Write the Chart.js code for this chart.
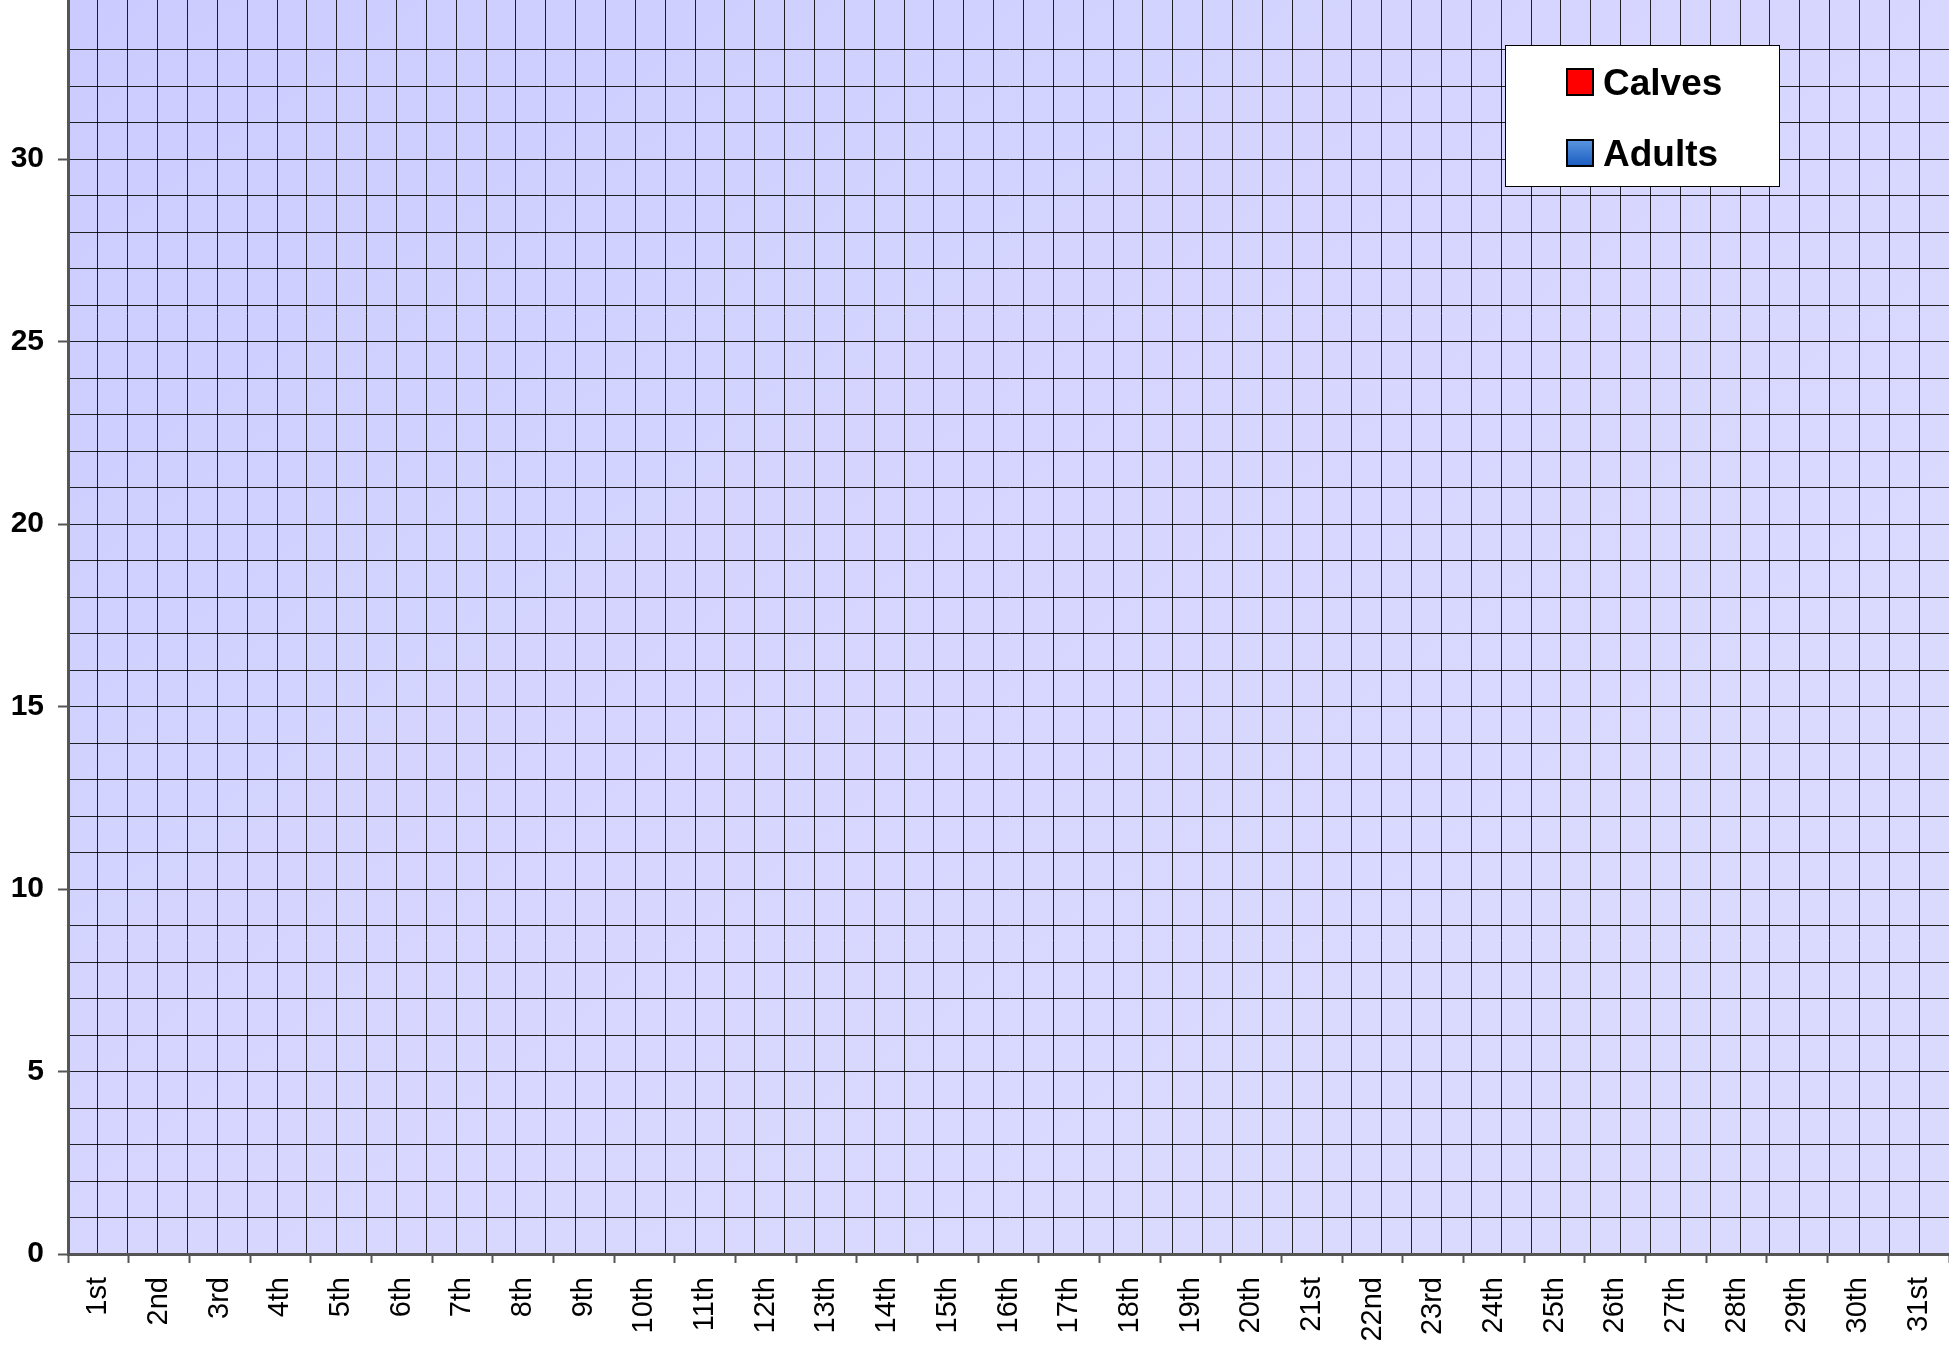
<!DOCTYPE html>
<html>
<head>
<meta charset="utf-8">
<script src="https://cdn.jsdelivr.net/npm/chart.js@4"></script>
<style>
  body { margin: 0; background: #fff; }
  canvas { display: block; }
</style>
</head>
<body>
<canvas id="myCanvas" width="1949" height="1346"></canvas>
<script>
'use strict';

// days of the month
const days = ['1st', '2nd', '3rd', '4th', '5th', '6th', '7th', '8th', '9th', '10th',
  '11th', '12th', '13th', '14th', '15th', '16th', '17th', '18th', '19th', '20th',
  '21st', '22nd', '23rd', '24th', '25th', '26th', '27th', '28th', '29th', '30th', '31st'];

// nothing was counted, every bar is empty
const calves = [0, 0, 0, 0, 0, 0, 0, 0, 0, 0, 0, 0, 0, 0, 0, 0, 0, 0, 0, 0, 0, 0, 0, 0, 0, 0, 0, 0, 0, 0, 0];
const adults = [0, 0, 0, 0, 0, 0, 0, 0, 0, 0, 0, 0, 0, 0, 0, 0, 0, 0, 0, 0, 0, 0, 0, 0, 0, 0, 0, 0, 0, 0, 0];

// y axis: labelled every 5, grid every 1
const yMin = 0;
const yMax = 34.36;
const yLabelStep = 5;

const gridColor = 'rgba(0, 0, 0, 0.85)';
const axisColor = '#555555';

// helper - lavender fill behind the plot
const plotBackground = {
  id: 'plotBackground',
  beforeDraw(chart) {
    const {ctx, chartArea: a} = chart;
    const g = ctx.createLinearGradient(a.left, a.top, a.left + a.width * 0.5, a.bottom);
    g.addColorStop(0, '#cbcbff');
    g.addColorStop(0.5, '#d4d4ff');
    g.addColorStop(1, '#dadaff');
    ctx.save();
    ctx.fillStyle = g;
    ctx.fillRect(a.left, a.top, a.width, a.height);
    ctx.restore();
  }
};

// legend box in the top right of the plot
const boxLegend = {
  id: 'boxLegend',
  afterDraw(chart) {
    const ctx = chart.ctx;
    const a = chart.chartArea;
    const x = a.right - 444;
    const y = a.top + 45;
    ctx.save();
    ctx.fillStyle = '#ffffff';
    ctx.fillRect(x, y, 274, 141);
    ctx.strokeStyle = '#000000';
    ctx.lineWidth = 1;
    ctx.strokeRect(x + 0.5, y + 0.5, 274, 141);

    chart.data.datasets.forEach(function (ds, i) {
      const sy = y + 24 + i * 71;
      let fill = ds.backgroundColor;
      if (ds.label === 'Adults') {
        fill = ctx.createLinearGradient(0, sy, 0, sy + 26);
        fill.addColorStop(0, '#5a96e0');
        fill.addColorStop(1, '#1a5cc0');
      }
      ctx.fillStyle = fill;
      ctx.fillRect(x + 62, sy, 26, 26);
      ctx.lineWidth = 2;
      ctx.strokeStyle = '#000000';
      ctx.strokeRect(x + 62, sy, 26, 26);

      ctx.fillStyle = '#000000';
      ctx.font = 'bold 37px "Liberation Sans", Arial, sans-serif';
      ctx.textBaseline = 'alphabetic';
      ctx.textAlign = 'left';
      ctx.fillText(ds.label, x + 98, sy + 26);
    });
    ctx.restore();
  }
};

const chartSection = document.getElementById('myCanvas').getContext('2d');
let myChart = new Chart(chartSection, {
  type: 'bar',
  data: {
    labels: days,
    datasets: [
      {
        label: 'Calves',
        backgroundColor: '#ff0000',
        borderColor: '#000000',
        borderWidth: 0,
        data: calves,
      },
      {
        label: 'Adults',
        backgroundColor: '#3f7fd4',
        borderColor: '#000000',
        borderWidth: 0,
        data: adults,
      },
    ],
  },
  options: {
    responsive: false,
    animation: false,
    devicePixelRatio: 1,
    layout: { padding: 0 },
    plugins: {
      legend: { display: false },
      tooltip: { enabled: false },
    },
    scales: {
      x: {
        type: 'category',
        offset: true,
        afterFit(scale) {
          scale.height = 92;
          scale.paddingLeft = 0;
          scale.paddingRight = 0;
        },
        grid: {
          offset: true,
          drawOnChartArea: false,
          tickLength: 9,
          tickColor: axisColor,
          tickWidth: 2,
        },
        border: { color: axisColor, width: 3 },
        ticks: {
          autoSkip: false,
          minRotation: 90,
          maxRotation: 90,
          padding: 14,
          color: '#000000',
          font: { family: '"Liberation Sans", Arial, sans-serif', size: 29 },
        },
      },
      // half-day grid lines
      xg: {
        type: 'linear',
        position: 'bottom',
        min: 0,
        max: days.length,
        afterFit(scale) {
          scale.height = 0;
          scale.paddingLeft = 0;
          scale.paddingRight = 0;
        },
        grid: { color: gridColor, lineWidth: 1, drawTicks: false },
        border: { display: false },
        ticks: { display: false, stepSize: 0.5, autoSkip: false },
      },
      y: {
        min: yMin,
        max: yMax,
        afterFit(scale) {
          scale.width = 68;
          scale.paddingTop = 0;
          scale.paddingBottom = 0;
        },
        grid: {
          color: (c) => Number.isInteger(c.tick.value) ? gridColor : 'rgba(0,0,0,0)',
          tickColor: (c) => c.tick.value % yLabelStep === 0 ? axisColor : 'rgba(0,0,0,0)',
          tickLength: 10,
          tickWidth: 2,
        },
        border: { color: axisColor, width: 3 },
        ticks: {
          stepSize: 1,
          autoSkip: false,
          padding: 14,
          color: '#000000',
          font: { family: '"Liberation Sans", Arial, sans-serif', size: 30, weight: 'bold' },
          callback: (v) => v % yLabelStep === 0 ? v : '',
        },
      },
    },
  },
  plugins: [plotBackground, boxLegend],
});
</script>
</body>
</html>
